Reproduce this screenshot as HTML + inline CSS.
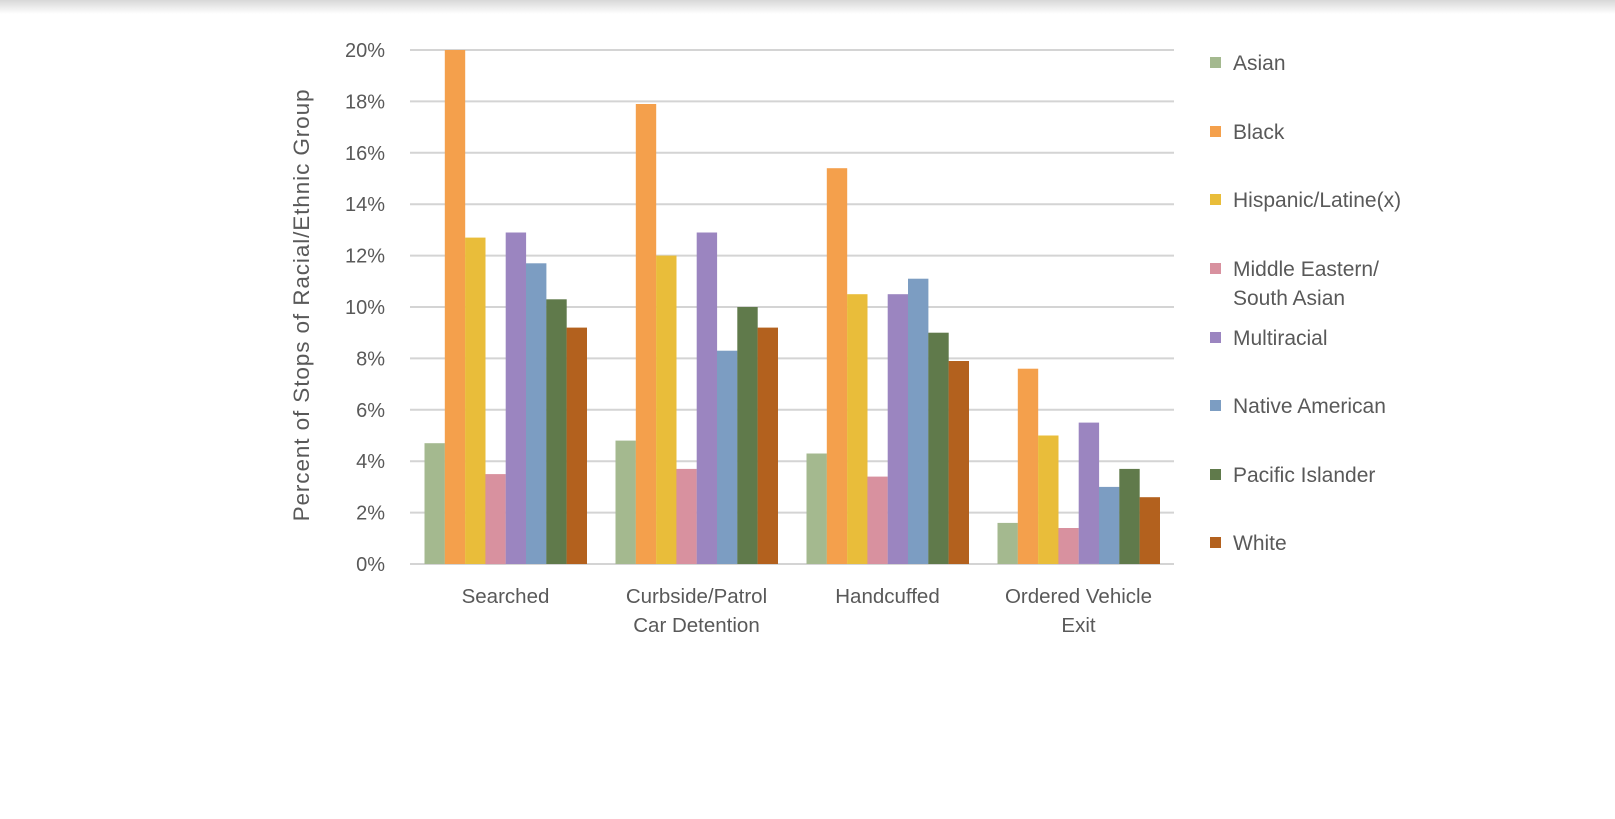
<!DOCTYPE html>
<html><head><style>
html,body{margin:0;padding:0;background:#fff;}
body{width:1615px;height:819px;overflow:hidden;position:relative;font-family:"Liberation Sans",sans-serif;}
.shadow{position:absolute;left:0;top:0;width:1615px;height:14px;background:linear-gradient(#d8d8d8,#fff);}
</style></head><body>
<div class="shadow"></div>
<svg width="1615" height="819" style="position:absolute;left:0;top:0" font-family="Liberation Sans, sans-serif">
<g id="grid" stroke="#d4d4d4" stroke-width="2"></g>
<g id="ticks" fill="#595959" font-size="20" text-anchor="end"></g>
<text transform="translate(309,305) rotate(-90)" text-anchor="middle" fill="#595959" font-size="22.5" letter-spacing="0.9">Percent of Stops of  Racial/Ethnic Group</text>
<g id="bars"></g>
<g fill="#595959" font-size="20.5" text-anchor="middle">
<text x="505.5" y="603">Searched</text>
<text x="696.5" y="603">Curbside/Patrol</text><text x="696.5" y="632">Car Detention</text>
<text x="887.5" y="603">Handcuffed</text>
<text x="1078.5" y="603">Ordered Vehicle</text><text x="1078.5" y="632">Exit</text>
</g>
<g font-size="21" fill="#595959">
<rect x="1210" y="57" width="11" height="11" fill="#a4b98f"/><text x="1233" y="70">Asian</text>
<rect x="1210" y="126" width="11" height="11" fill="#f4a04c"/><text x="1233" y="139">Black</text>
<rect x="1210" y="194" width="11" height="11" fill="#e9bd3a"/><text x="1233" y="207">Hispanic/Latine(x)</text>
<rect x="1210" y="263" width="11" height="11" fill="#d8919f"/><text x="1233" y="276">Middle Eastern/</text><text x="1233" y="305">South Asian</text>
<rect x="1210" y="332" width="11" height="11" fill="#9b85c0"/><text x="1233" y="345">Multiracial</text>
<rect x="1210" y="400" width="11" height="11" fill="#7c9dc2"/><text x="1233" y="413">Native American</text>
<rect x="1210" y="469" width="11" height="11" fill="#607a4b"/><text x="1233" y="482">Pacific Islander</text>
<rect x="1210" y="537" width="11" height="11" fill="#b3611e"/><text x="1233" y="550">White</text>
</g>
</svg>
<script>
var y0=564,pp=25.7;
var gr="",tk="";
for(var k=0;k<=10;k++){var y=y0-k*2*pp;gr+='<line x1="410" x2="1174" y1="'+y+'" y2="'+y+'"/>';tk+='<text x="385" y="'+(y+7)+'">'+(k*2)+'%</text>';}
document.getElementById("grid").innerHTML=gr;document.getElementById("ticks").innerHTML=tk;
var d=[[4.7,20,12.7,3.5,12.9,11.7,10.3,9.2],[4.8,17.9,12.0,3.7,12.9,8.3,10.0,9.2],[4.3,15.4,10.5,3.4,10.5,11.1,9.0,7.9],[1.6,7.6,5.0,1.4,5.5,3.0,3.7,2.6]];
var c=["#a4b98f","#f4a04c","#e9bd3a","#d8919f","#9b85c0","#7c9dc2","#607a4b","#b3611e"];
var s="";
for(var i=0;i<4;i++)for(var j=0;j<8;j++){var x=424.5+i*191+j*20.3,h=d[i][j]*pp;
s+='<rect x="'+x.toFixed(1)+'" y="'+(y0-h).toFixed(1)+'" width="20.4" height="'+h.toFixed(1)+'" fill="'+c[j]+'"/>';}
document.getElementById("bars").innerHTML=s;
</script>
</body></html>
